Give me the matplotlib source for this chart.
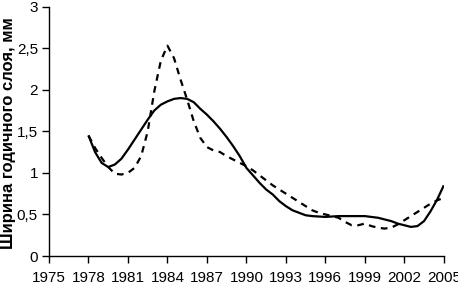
import matplotlib
matplotlib.use("Agg")
import matplotlib.pyplot as plt
from matplotlib.ticker import FuncFormatter

years_solid = [1978.0, 1978.5, 1979.0, 1979.5, 1980.0, 1980.5, 1981.0, 1981.5, 1982.0, 1982.5,
               1983.0, 1983.5, 1984.0, 1984.5, 1985.0, 1985.5, 1986.0, 1986.5, 1987.0, 1987.5,
               1988.0, 1988.5, 1989.0, 1989.5, 1990.0, 1990.5, 1991.0, 1991.5, 1992.0, 1992.5,
               1993.0, 1993.5, 1994.0, 1994.5, 1995.0, 1996.0, 1997.0, 1998.0, 1999.0, 1999.5,
               2000.0, 2000.5, 2001.0, 2001.5, 2002.0, 2002.5, 2003.0, 2003.5, 2004.0, 2004.5, 2005.0]
solid = [1.45, 1.25, 1.12, 1.07, 1.10, 1.17, 1.28, 1.40, 1.52, 1.64,
         1.75, 1.82, 1.86, 1.89, 1.90, 1.89, 1.85, 1.77, 1.70, 1.62,
         1.53, 1.43, 1.32, 1.20, 1.06, 0.97, 0.88, 0.80, 0.74, 0.66,
         0.60, 0.55, 0.52, 0.49, 0.48, 0.47, 0.48, 0.48, 0.48, 0.47,
         0.46, 0.44, 0.42, 0.39, 0.37, 0.35, 0.36, 0.42, 0.54, 0.68, 0.85]

years_dashed = [1978.0, 1978.5, 1979.0, 1979.5, 1980.0, 1980.5, 1981.0, 1981.5, 1982.0, 1982.5,
                1983.0, 1983.5, 1984.0, 1984.5, 1985.0, 1985.5, 1986.0, 1986.5, 1987.0, 1987.5,
                1988.0, 1988.5, 1989.0, 1989.5, 1990.0, 1990.5, 1991.0, 1991.5, 1992.0, 1992.5,
                1993.0, 1993.5, 1994.0, 1994.5, 1995.0, 1995.5, 1996.0, 1996.5, 1997.0, 1997.5,
                1998.0, 1998.5, 1999.0, 1999.5, 2000.0, 2000.5, 2001.0, 2001.5, 2002.0, 2002.5,
                2003.0, 2003.5, 2004.0, 2004.5, 2005.0]
dashed = [1.45, 1.30, 1.18, 1.07, 0.99, 0.98, 1.00, 1.06, 1.20, 1.50,
          1.98, 2.35, 2.53, 2.38, 2.12, 1.88, 1.62, 1.42, 1.31, 1.27,
          1.25, 1.20, 1.16, 1.12, 1.08, 1.03, 0.97, 0.91, 0.85, 0.80,
          0.75, 0.70, 0.65, 0.60, 0.55, 0.52, 0.50, 0.48, 0.46, 0.41,
          0.37, 0.37, 0.39, 0.36, 0.34, 0.33, 0.34, 0.38, 0.43, 0.48,
          0.53, 0.58, 0.63, 0.67, 0.70]

x_ticks = list(range(1975, 2006, 3))
y_ticks = [0, 0.5, 1, 1.5, 2, 2.5, 3]
y_label = "Ширина годичного слоя, мм"

plt.rcParams['font.family'] = ['Liberation Sans Narrow', 'Liberation Sans', 'DejaVu Sans']

fig = plt.figure(figsize=(4.58, 2.87), dpi=100)
ax = fig.add_axes([0.107, 0.108, 0.862, 0.869])

ax.plot(years_solid, solid, color='black', lw=1.6, solid_capstyle='butt')
ax.plot(years_dashed, dashed, color='black', lw=1.6, dashes=(3, 2.5))

ax.set_xlim(1975, 2005)
ax.set_ylim(0, 3)
ax.set_xticks(x_ticks)
ax.set_yticks(y_ticks)
ax.yaxis.set_major_formatter(FuncFormatter(lambda v, p: (f"{v:g}").replace('.', ',')))

for s in ['top', 'right']:
    ax.spines[s].set_visible(False)
for s in ['left', 'bottom']:
    ax.spines[s].set_linewidth(1.0)
ax.tick_params(direction='out', length=5, width=1.0, labelsize=11)
ax.tick_params(axis='y', pad=3)
ax.tick_params(axis='x', pad=6)

fig.text(0.019, 0.535, y_label, rotation=90, ha='center', va='center',
         fontsize=12, fontweight='bold', family=['Liberation Sans', 'DejaVu Sans'])

fig.savefig("out.png", dpi=100)
